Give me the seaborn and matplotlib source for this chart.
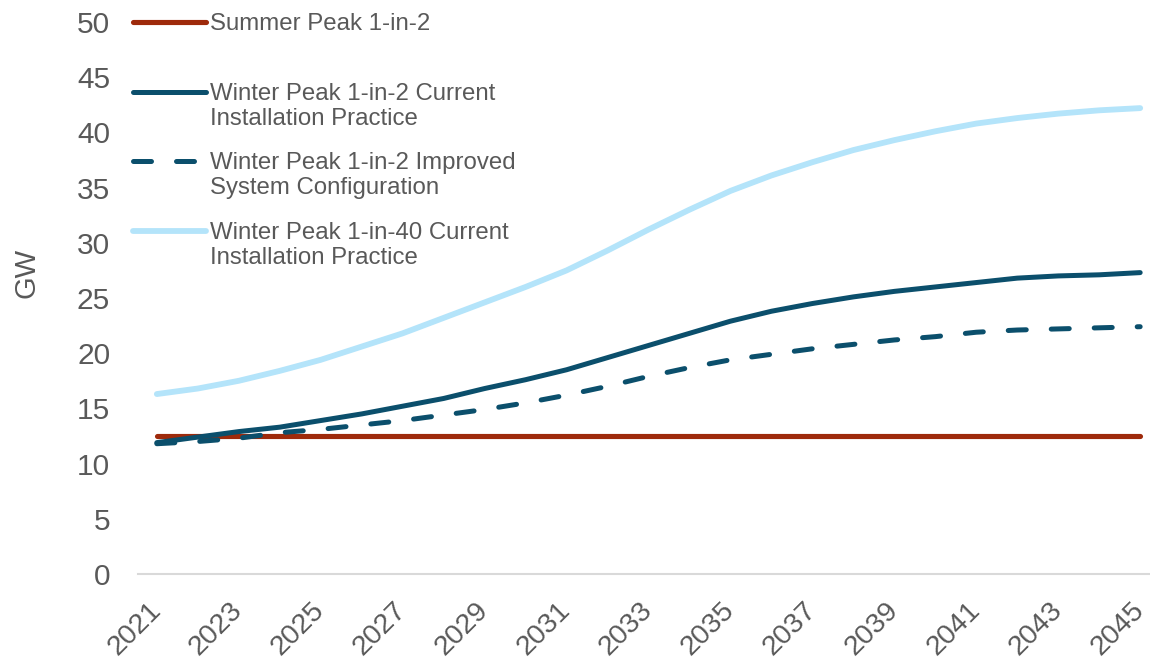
import numpy as np
import pandas as pd
import matplotlib
matplotlib.use("Agg")
import matplotlib.pyplot as plt
import seaborn as sns

# data (GW)
years = list(range(2021, 2046))
summer_1in2 = [12.5, 12.5, 12.5, 12.5, 12.5, 12.5, 12.5, 12.5, 12.5, 12.5,
               12.5, 12.5, 12.5, 12.5, 12.5, 12.5, 12.5, 12.5, 12.5, 12.5,
               12.5, 12.5, 12.5, 12.5, 12.5]
winter_1in2_current = [11.9, 12.4, 12.9, 13.3, 13.9, 14.5, 15.2, 15.9, 16.8, 17.6,
                       18.5, 19.6, 20.7, 21.8, 22.9, 23.8, 24.5, 25.1, 25.6, 26.0,
                       26.4, 26.8, 27.0, 27.1, 27.3]
winter_1in2_improved = [11.8, 12.0, 12.3, 12.8, 13.1, 13.5, 13.9, 14.4, 14.9, 15.5,
                        16.2, 17.0, 17.9, 18.7, 19.4, 19.9, 20.4, 20.8, 21.2, 21.5,
                        21.9, 22.1, 22.2, 22.3, 22.4]
winter_1in40_current = [16.3, 16.8, 17.5, 18.4, 19.4, 20.6, 21.8, 23.2, 24.6, 26.0,
                        27.5, 29.3, 31.2, 33.0, 34.7, 36.1, 37.3, 38.4, 39.3, 40.1,
                        40.8, 41.3, 41.7, 42.0, 42.2]
labels = ["Summer Peak 1-in-2\n",
          "Winter Peak 1-in-2 Current\nInstallation Practice",
          "Winter Peak 1-in-2 Improved\nSystem Configuration",
          "Winter Peak 1-in-40 Current\nInstallation Practice"]
y_ticks = [0, 5, 10, 15, 20, 25, 30, 35, 40, 45, 50]
x_ticks = list(range(2021, 2046, 2))

sns.set_style("white")
plt.rcParams['font.family'] = ['Liberation Sans', 'DejaVu Sans']
grey = '#595959'

fig = plt.figure(figsize=(11.5, 6.66), dpi=100)
ax = fig.add_axes([138 / 1150, 92 / 666, 1 - 138 / 1150, 552 / 666])

series = [summer_1in2, winter_1in2_current, winter_1in2_improved, winter_1in40_current]
colors = ['#9E2A0B', '#0B4F6C', '#0B4F6C', '#B4E4FA']
styles = ['-', '-', (0, (3.6, 5)), '-']
widths = [3.7, 3.6, 3.6, 4.2]

for vals, lab, c, ls, lw in zip(series, labels, colors, styles, widths):
    df = pd.DataFrame({'year': years, 'gw': vals})
    sns.lineplot(data=df, x='year', y='gw', ax=ax, color=c, linestyle=ls,
                 linewidth=lw, label=lab, solid_capstyle='round',
                 dash_capstyle='round')

ax.set_xlim(2020.54, 2045.24)
ax.set_ylim(0, 50)
ax.set_yticks(y_ticks)
ax.set_xticks(x_ticks)
ax.set_xticklabels([str(x) for x in x_ticks], rotation=45, ha='right',
                   va='center', rotation_mode='anchor')
ax.tick_params(axis='y', length=0, pad=20, labelsize=21.5, labelcolor=grey)
ax.tick_params(axis='x', length=0, pad=23, labelsize=20.5, labelcolor=grey)

ax.set_xlabel('')
ax.set_ylabel('GW', fontsize=21, color=grey)
ax.yaxis.set_label_coords(-0.096, 0.545)
for s in ['top', 'right', 'left']:
    ax.spines[s].set_visible(False)
ax.spines['bottom'].set_color('#D9D9D9')
ax.spines['bottom'].set_linewidth(1.5)

leg = ax.legend(loc='upper left', bbox_to_anchor=(133 / 1150, 1 - 13 / 666),
                bbox_transform=fig.transFigure, frameon=False, borderpad=0,
                borderaxespad=0, fontsize=17.3, handlelength=3.05,
                handletextpad=0.17, labelspacing=0.92, labelcolor=grey)
# Excel puts the legend key beside the first line of a wrapped label
for ln in leg.get_lines():
    ln.set_ydata(np.asarray(ln.get_ydata()) + 10.4)

fig.savefig('out.png', dpi=100)
